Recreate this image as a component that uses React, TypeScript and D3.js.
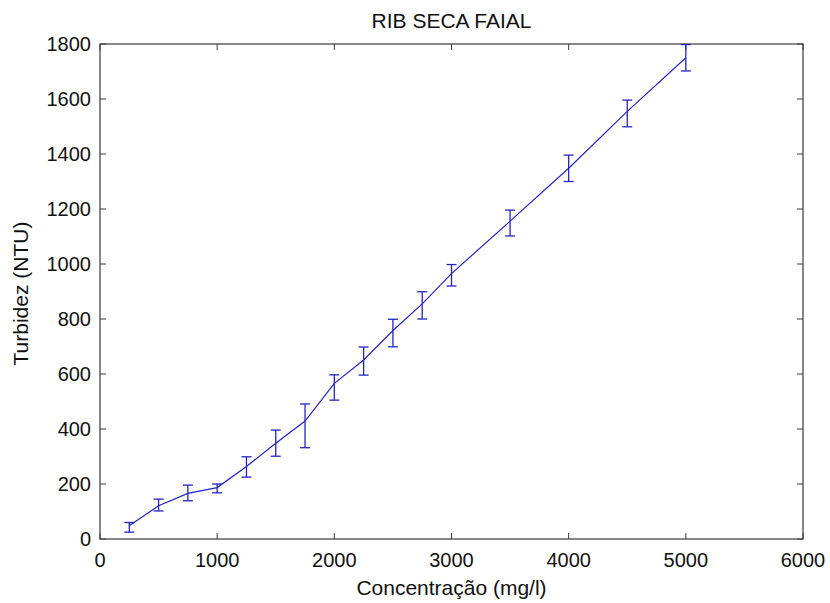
import React from "react";
import * as d3 from "d3";

const concentration = [250, 500, 750, 1000, 1250, 1500, 1750, 2000, 2250, 2500, 2750, 3000, 3500, 4000, 4500, 5000];
const turbidity = [48, 121, 166, 187, 264, 348, 429, 566, 651, 758, 855, 965, 1156, 1348, 1555, 1750];
const lowerBound = [25, 102, 139, 168, 225, 301, 332, 505, 596, 699, 800, 920, 1102, 1300, 1499, 1702];
const upperBound = [60, 145, 196, 200, 299, 396, 491, 597, 698, 799, 899, 998, 1196, 1396, 1596, 1798];
const xTicks = [0, 1000, 2000, 3000, 4000, 5000, 6000];
const yTicks = [0, 200, 400, 600, 800, 1000, 1200, 1400, 1600, 1800];

const W = 830, H = 603;
const L = 100, R = 803, T = 44, B = 539;

export default function App() {
  const x = d3.scaleLinear().domain([0, 6000]).range([L, R]);
  const y = d3.scaleLinear().domain([0, 1800]).range([B, T]);
  const pts = concentration.map((c, i) => [x(c), y(turbidity[i])] as [number, number]);
  const line = d3.line()(pts) || "";
  const blue = "#2424c4";
  const axisCol = "#3a3a3a";
  const font = "'Liberation Sans', Arial, sans-serif";
  const tickLen = 6;
  const cap = 5;
  return (
    <svg width={W} height={H} style={{ position: "absolute", left: 0, top: 0, background: "#fff" }}>
      <rect x={0} y={0} width={W} height={H} fill="#fff" />
      {xTicks.map((t) => (
        <g key={"xt" + t}>
          <line x1={x(t)} x2={x(t)} y1={B} y2={B - tickLen} stroke={axisCol} strokeWidth={1} />
          <line x1={x(t)} x2={x(t)} y1={T} y2={T + tickLen} stroke={axisCol} strokeWidth={1} />
          <text x={x(t)} y={567} textAnchor="middle" fontFamily={font} fontSize={20} fill="#111">{t}</text>
        </g>
      ))}
      {yTicks.map((t) => (
        <g key={"yt" + t}>
          <line x1={L} x2={L + tickLen} y1={y(t)} y2={y(t)} stroke={axisCol} strokeWidth={1} />
          <line x1={R} x2={R - tickLen} y1={y(t)} y2={y(t)} stroke={axisCol} strokeWidth={1} />
          <text x={91} y={y(t) + 7} textAnchor="end" fontFamily={font} fontSize={20} fill="#111">{t}</text>
        </g>
      ))}
      <rect x={L} y={T} width={R - L} height={B - T} fill="none" stroke={axisCol} strokeWidth={1.2} />
      {concentration.map((c, i) => (
        <g key={"eb" + c} stroke={blue} strokeWidth={1.3}>
          <line x1={x(c)} x2={x(c)} y1={y(lowerBound[i])} y2={y(upperBound[i])} />
          <line x1={x(c) - cap} x2={x(c) + cap} y1={y(lowerBound[i])} y2={y(lowerBound[i])} />
          <line x1={x(c) - cap} x2={x(c) + cap} y1={y(upperBound[i])} y2={y(upperBound[i])} />
        </g>
      ))}
      <path d={line} fill="none" stroke={blue} strokeWidth={1.2} />
      <text x={(L + R) / 2} y={28} textAnchor="middle" fontFamily={font} fontSize={21} fill="#111">RIB SECA FAIAL</text>
      <text x={(L + R) / 2} y={595} textAnchor="middle" fontFamily={font} fontSize={21} fill="#111">Concentração (mg/l)</text>
      <text transform={`translate(28, ${(T + B) / 2 + 2}) rotate(-90)`} textAnchor="middle" fontFamily={font} fontSize={21} fill="#111">Turbidez (NTU)</text>
    </svg>
  );
}
